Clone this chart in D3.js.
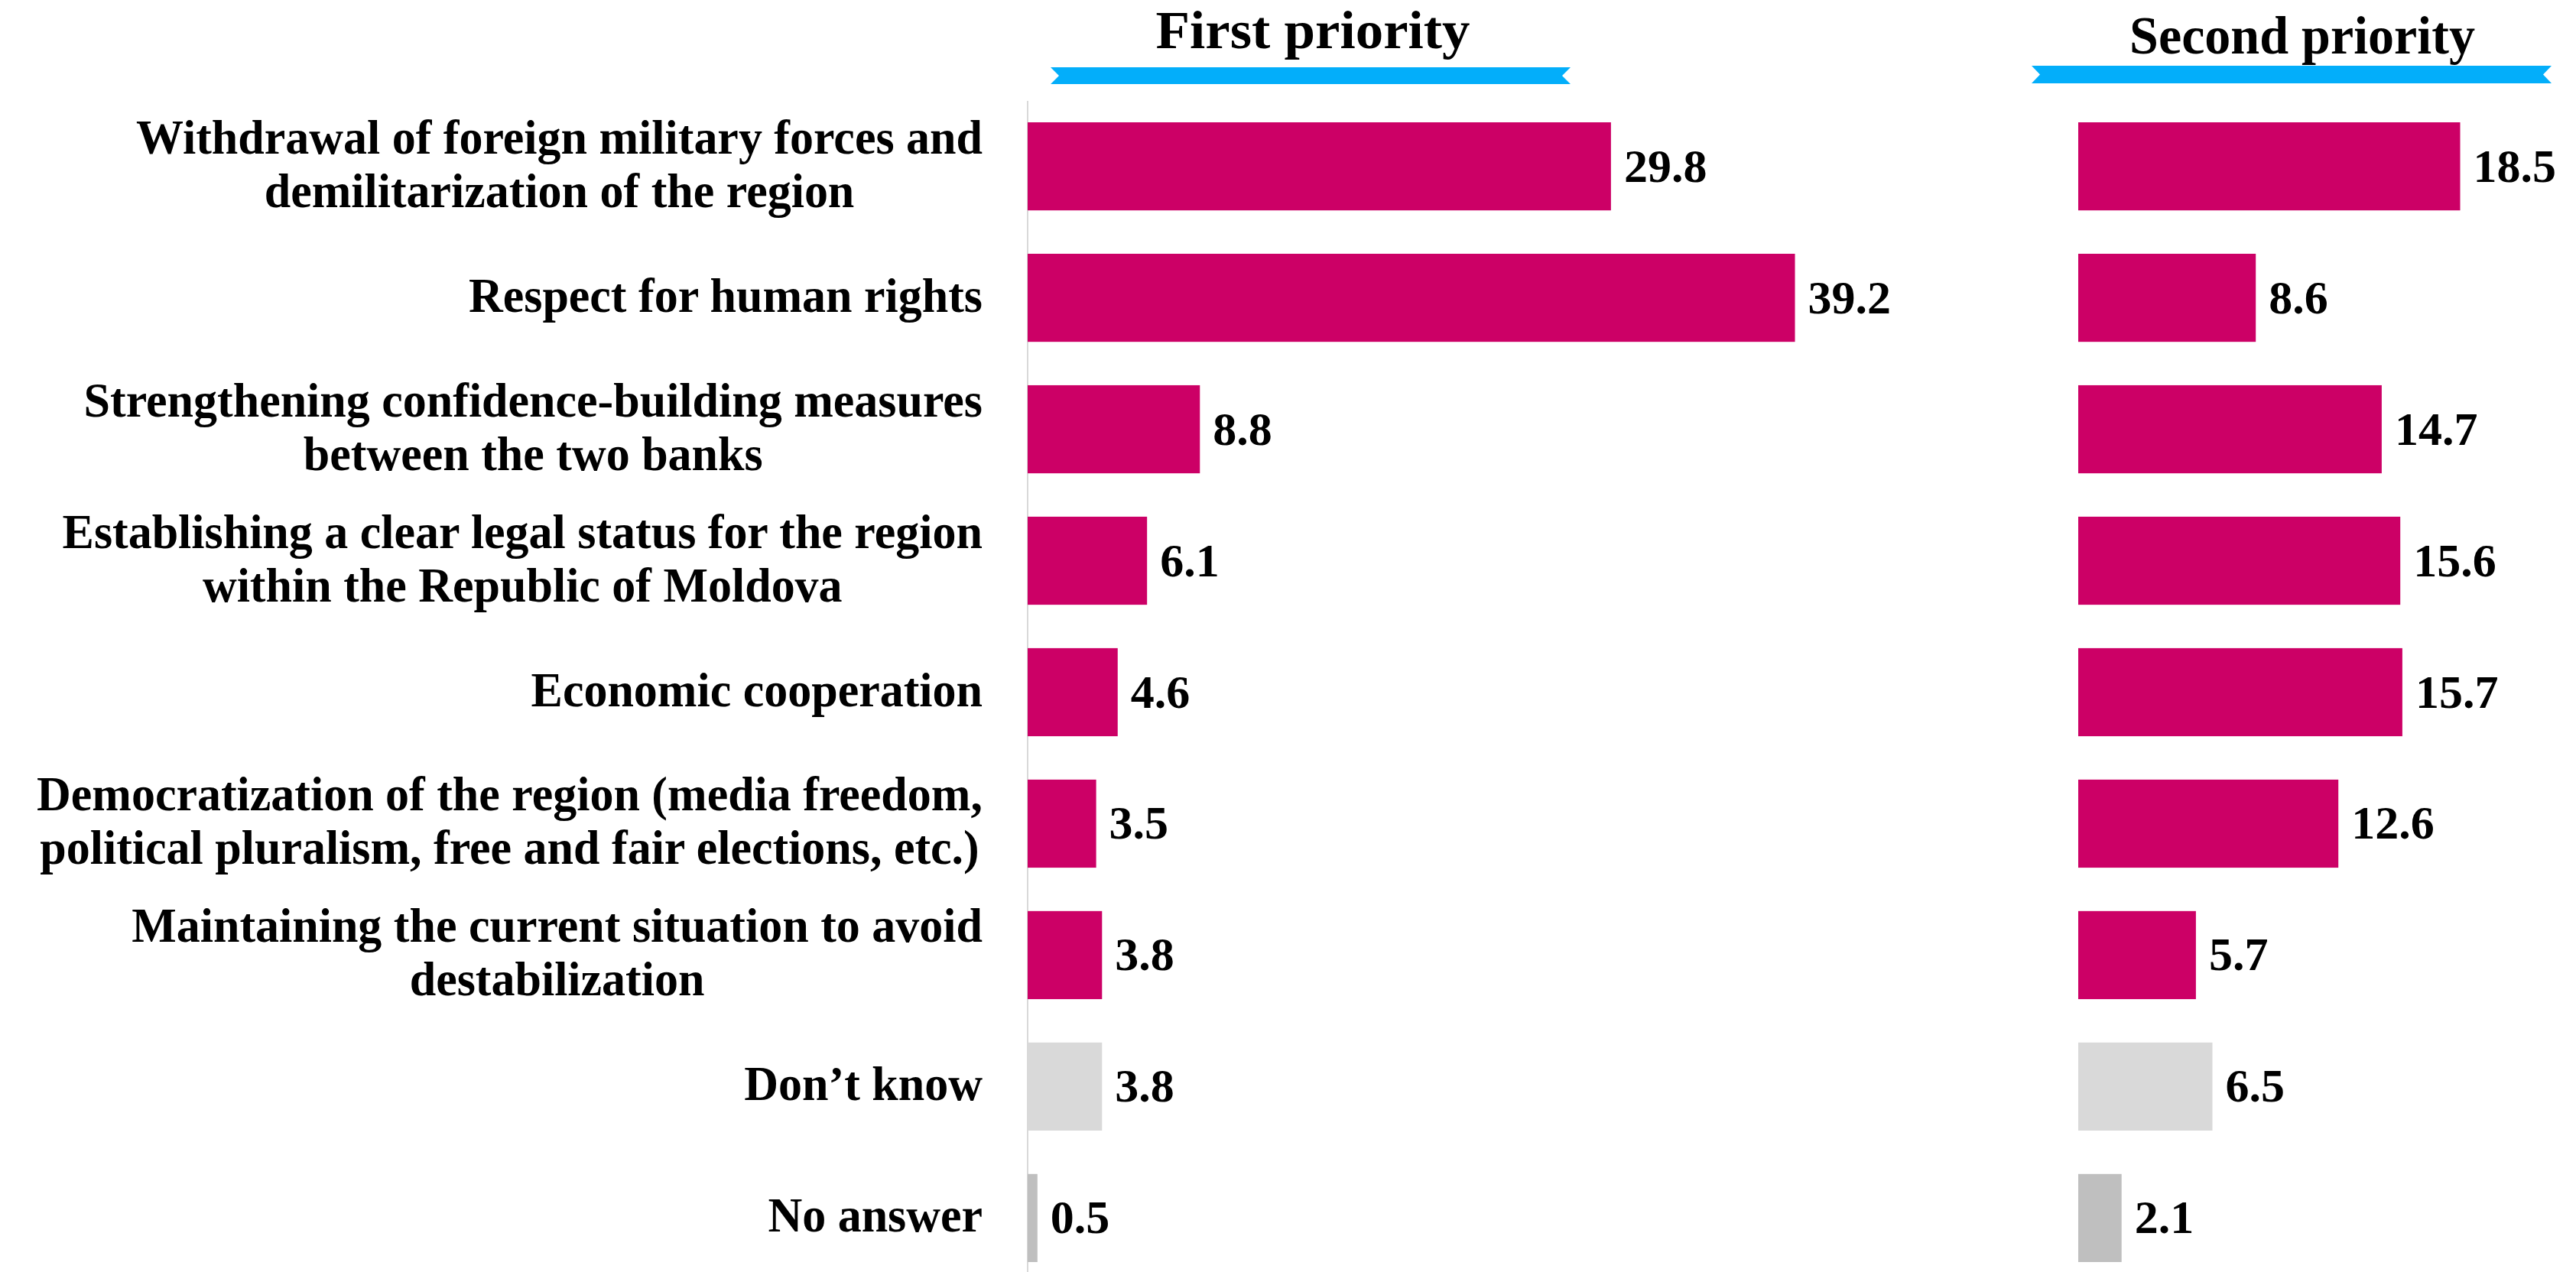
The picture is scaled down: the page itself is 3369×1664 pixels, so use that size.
<!DOCTYPE html>
<html>
<head>
<meta charset="UTF-8">
<title>Priorities</title>
<script src="https://d3js.org/d3.v7.min.js"></script>
<style>
  body { margin: 0; background: #fff; }
  svg { display: block; background: #fff; }
  .label { font-family: "Liberation Serif", serif; font-weight: bold; font-size: 63px; fill: #000; }
  .value { font-family: "Liberation Serif", serif; font-weight: bold; font-size: 62px; fill: #000; }
  .title { font-family: "Liberation Serif", serif; font-weight: bold; font-size: 70px; fill: #000; }
</style>
</head>
<body>
<svg width="3369" height="1664"></svg>
<script>
// categories, lines split with \n
const categories = [
  "Withdrawal of foreign military forces and\ndemilitarization of the region",
  "Respect for human rights",
  "Strengthening confidence-building measures\nbetween the two banks",
  "Establishing a clear legal status for the region\nwithin the Republic of Moldova",
  "Economic cooperation",
  "Democratization of the region (media freedom,\npolitical pluralism, free and fair elections, etc.)",
  "Maintaining the current situation to avoid\ndestabilization",
  "Don’t know",
  "No answer"
];
const firstPriority = [29.8, 39.2, 8.8, 6.1, 4.6, 3.5, 3.8, 3.8, 0.5];
const secondPriority = [18.5, 8.6, 14.7, 15.6, 15.7, 12.6, 5.7, 6.5, 2.1];
const panelTitles = ["First priority", "Second priority"];
const barColors = ["#cc0066", "#cc0066", "#cc0066", "#cc0066", "#cc0066", "#cc0066", "#cc0066", "#d9d9d9", "#bfbfbf"];

const svg = d3.select("svg");

const y = d3.scaleBand()
  .domain(d3.range(categories.length))
  .range([160, 1651])
  .paddingInner(0.33)
  .paddingOuter(0);

const x1 = d3.scaleLinear().domain([0, 40]).range([1344, 2368]);
const x2 = d3.scaleLinear().domain([0, 20]).range([2718, 3258]);

// category labels (centered lines, block right aligned)
const labelRight = 1285;
const lineGap = 70;

// measure a reference line to squeeze the serif into the narrow look
const probe = svg.append("text").attr("class", "label").text("Withdrawal of foreign military forces and");
const sx = 1107 / probe.node().getComputedTextLength();
probe.remove();

categories.forEach((c, i) => {
  const lines = c.split("\n");
  const g = svg.append("g");
  const texts = lines.map(l => g.append("text").attr("class", "label").attr("text-anchor", "middle").text(l));
  const maxW = d3.max(texts, t => t.node().getComputedTextLength()) * sx;
  const cx = labelRight - maxW / 2;
  const cy = y(i) + y.bandwidth() / 2;
  texts.forEach((t, k) => {
    const by = cy + 18 + (k - (lines.length - 1) / 2) * lineGap;
    t.attr("transform", `translate(${cx},${by}) scale(${sx},1)`);
  });
});

// axis line of the first panel
svg.append("line")
  .attr("x1", x1(0)).attr("x2", x1(0))
  .attr("y1", y.range()[0] - 28).attr("y2", 1664)
  .attr("stroke", "#d9d9d9").attr("stroke-width", 2);

function panel(values, x) {
  const g = svg.append("g");
  g.selectAll("rect")
    .data(values)
    .join("rect")
    .attr("x", x(0))
    .attr("y", (d, i) => y(i))
    .attr("width", d => x(d) - x(0))
    .attr("height", y.bandwidth())
    .attr("fill", (d, i) => barColors[i]);

  g.selectAll("text")
    .data(values)
    .join("text")
    .attr("class", "value")
    .attr("x", d => x(d) + 17)
    .attr("y", (d, i) => y(i) + y.bandwidth() / 2 + 20)
    .text(d => d.toFixed(1));
}
panel(firstPriority, x1);
panel(secondPriority, x2);

// ribbons + titles
const ribbons = [
  {x0: 1374, x1: 2054, y0: 88, y1: 110, tx: 1717, ty: 63, tw: 411},
  {x0: 2657, x1: 3337, y0: 86, y1: 109, tx: 3011, ty: 70, tw: 452}
];
ribbons.forEach((r, i) => {
  const n = 11, ym = (r.y0 + r.y1) / 2;
  svg.append("polygon")
    .attr("points", [[r.x0, r.y0], [r.x1, r.y0], [r.x1 - n, ym], [r.x1, r.y1], [r.x0, r.y1], [r.x0 + n, ym]].map(p => p.join(",")).join(" "))
    .attr("fill", "#03aefa");
  const t = svg.append("text").attr("class", "title").attr("text-anchor", "middle").text(panelTitles[i]);
  const s = r.tw / t.node().getComputedTextLength();
  t.attr("transform", `translate(${r.tx},${r.ty}) scale(${s},1)`);
});
</script>
</body>
</html>
